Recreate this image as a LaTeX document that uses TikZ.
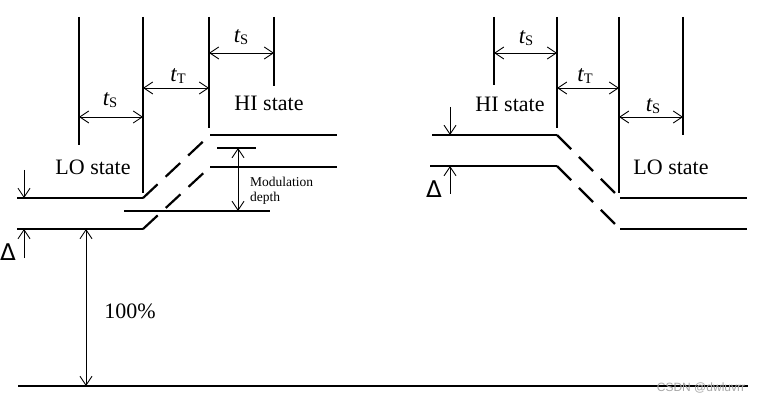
\documentclass[tikz,border=0pt]{standalone}
\usepackage{fontspec}
\setmainfont{Liberation Serif}
\newfontfamily\deltafont{DejaVu Sans}
\newfontfamily\markfont{Liberation Sans}
\usetikzlibrary{arrows.meta}
\definecolor{ink}{HTML}{000000}
\definecolor{wmgray}{HTML}{A6A6A6}
\newcommand{\tsub}[1]{{\itshape t}\raisebox{-1.5pt}{\fontsize{14.5}{14.5}\selectfont #1}}
\tikzset{
  every node/.style={inner sep=0pt, text=ink},
  level/.style={draw=ink, line width=2.2pt},
  ramp/.style={level, dash pattern=on 20pt off 11pt},
  ext/.style={draw=ink, line width=1.2pt},
  groundline/.style={draw=ink, line width=1.6pt},
  dim/.style={{Straight Barb[length=9pt,width=12pt]}-{Straight Barb[length=9pt,width=12pt]}, line width=0.9pt, draw=ink},
  oneway/.style={-{Straight Barb[length=9pt,width=12pt]}, line width=0.9pt, draw=ink},
  statelabel/.style={anchor=base, font=\fontsize{22}{26}\selectfont},
  tlabel/.style={anchor=base, font=\fontsize{23}{26}\selectfont},
  deltalabel/.style={anchor=base, font=\deltafont\fontsize{23}{26}\selectfont},
  smalllabel/.style={anchor=west, align=left, font=\fontsize{13.5}{15}\selectfont},
  marklabel/.style={font=\markfont\fontsize{12}{14}\selectfont, text=wmgray},
}

\begin{document}
\begin{tikzpicture}[x=1pt, y=-1pt]
\useasboundingbox (0,0) rectangle (760,406);
\foreach \x/\y [count=\i] in {79/145,143/193,209/128,274/86,494/85,557/128,619/193,683/135}
  \draw[ext] (\x,17) coordinate (e\i) -- (\x,\y) coordinate (f\i);
\foreach \a/\b/\y/\n in {1/2/117/a,2/3/88/b,3/4/53/c,5/6/53/d,6/7/88/e,7/8/117/f}
  \draw[dim] (e\a |- 0,\y) coordinate (\n1) -- (e\b |- 0,\y) coordinate (\n2);
\node[tlabel] (ts1) at (110,106) {\tsub{S}};
\node[tlabel] (tt1) at (178,82) {\tsub{T}};
\node[tlabel] (ts2) at (241,43) {\tsub{S}};
\node[tlabel] (ts3) at (526,44) {\tsub{S}};
\node[tlabel] (tt2) at (585,82) {\tsub{T}};
\node[tlabel] (ts4) at (653,112) {\tsub{S}};
\node[statelabel] (lo1) at (93,175) {LO state};
\node[statelabel] (hi1) at (269,111) {HI state};
\node[statelabel] (hi2) at (510,112) {HI state};
\node[statelabel] (lo2) at (671,175) {LO state};
\coordinate (l1) at (17,198); \coordinate (l2) at (143,198); \coordinate (h1) at (210,135); \coordinate (h2) at (337,135);
\coordinate (l3) at (17,229); \coordinate (l4) at (143,229); \coordinate (h3) at (210,167); \coordinate (h4) at (337,167);
\draw[level] (l1)--(l2); \draw[ramp] (l2)--(h1); \draw[level] (h1)--(h2);
\draw[level] (l3)--(l4); \draw[ramp] (l4)--(h3); \draw[level] (h3)--(h4);
\coordinate (r1) at (432,135); \coordinate (r2) at (557,135); \coordinate (r3) at (620,198); \coordinate (r4) at (747,198);
\coordinate (r5) at (430,166); \coordinate (r6) at (557,166); \coordinate (r7) at (620,229); \coordinate (r8) at (747,229);
\draw[level] (r1)--(r2); \draw[ramp] (r2)--(r3); \draw[level] (r3)--(r4);
\draw[level] (r5)--(r6); \draw[ramp] (r6)--(r7); \draw[level] (r7)--(r8);
\coordinate (m1) at (124,211); \coordinate (m2) at (270,211); \coordinate (k1) at (217,148); \coordinate (k2) at (256,148);
\coordinate (d1) at (238,148); \coordinate (d2) at (238,211);
\draw[groundline] (m1)--(m2); \draw[ext] (k1)--(k2); \draw[dim] (d1)--(d2);
\node[smalllabel] (md) at (250,191) {Modulation\\depth};
\coordinate (p1) at (24,170); \coordinate (p2) at (24,198); \coordinate (p3) at (24,258); \coordinate (p4) at (24,229);
\coordinate (q1) at (450,107); \coordinate (q2) at (450,135); \coordinate (q3) at (450,194); \coordinate (q4) at (450,166);
\draw[oneway] (p1)--(p2); \draw[oneway] (p3)--(p4); \draw[oneway] (q1)--(q2); \draw[oneway] (q3)--(q4);
\node[deltalabel] (dl) at (8,260) {Δ};
\node[deltalabel] (dr) at (434,198) {Δ};
\coordinate (g1) at (18,386); \coordinate (g2) at (748,386); \coordinate (c1) at (86,229); \coordinate (c2) at (86,386);
\draw[groundline] (g1)--(g2); \draw[dim] (c1)--(c2);
\node[statelabel] (pc) at (130,318) {100\%};
\node[marklabel] (wm) at (701,388) {CSDN @dwluvrr};
\end{tikzpicture}
\end{document}
